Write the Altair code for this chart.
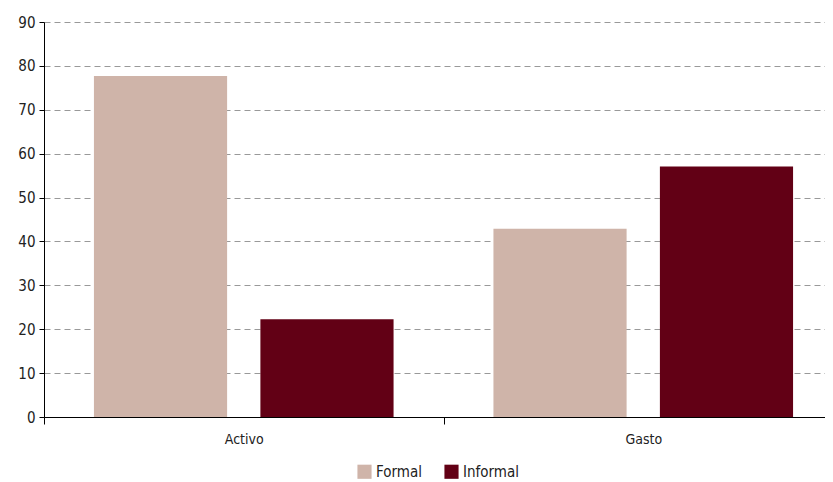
import altair as alt
import pandas as pd

categories = ["Activo", "Activo", "Gasto", "Gasto"]
series = ["Formal", "Informal", "Formal", "Informal"]
values = [77.7, 22.3, 42.9, 57.1]

df = pd.DataFrame({"cat": categories, "serie": series, "valor": values})

FONT = "DejaVu Sans Condensed, Roboto Condensed, Liberation Sans Narrow, sans-serif"

chart = alt.Chart(df).mark_bar().encode(
    x=alt.X("cat:N", title=None,
            scale=alt.Scale(paddingInner=0, paddingOuter=0, range=[0, 799]),
            axis=alt.Axis(labelAngle=0, tickBand="extent", domainColor="#000",
                          tickColor="#000", tickSize=7, labelPadding=8,
                          labelFontSize=14, labelColor="#222", labelFont=FONT)),
    xOffset=alt.XOffset("serie:N", scale=alt.Scale(paddingInner=0.2, paddingOuter=0.3)),
    y=alt.Y("valor:Q", title=None,
            scale=alt.Scale(domain=[0, 90]),
            axis=alt.Axis(values=list(range(0, 100, 10)), grid=True, gridDash=[6, 4],
                          gridColor="#999", domainColor="#000", tickColor="#000",
                          tickSize=5, labelFontSize=15, labelColor="#222", labelFont=FONT,
                          labelPadding=4)),
    color=alt.Color("serie:N", title=None,
                    scale=alt.Scale(domain=["Formal", "Informal"], range=["#CFB4A9", "#620015"]),
                    legend=alt.Legend(orient="none", legendX=313, legendY=442,
                                      direction="horizontal",
                                      symbolType="square", symbolSize=200,
                                      symbolStrokeWidth=0, labelFontSize=15,
                                      labelFont=FONT, labelColor="#222",
                                      columnPadding=22, labelOffset=4)),
).properties(width=781, height=395,
             autosize=alt.AutoSizeParams(type="none"),
             padding={"top": 14, "left": 36, "right": 0, "bottom": 72}
).configure_view(stroke=None)

chart.save("out.html", embed_options={"renderer": "svg", "actions": False})
